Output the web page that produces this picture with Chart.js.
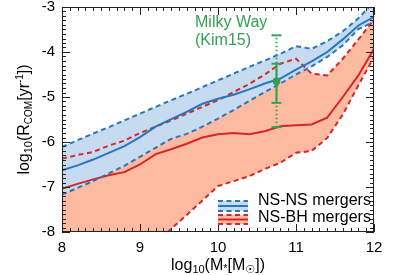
<!DOCTYPE html>
<html>
<head>
<meta charset="utf-8">
<script src="https://cdn.jsdelivr.net/npm/chart.js@4/dist/chart.umd.min.js"></script>
<style>
  html, body { margin: 0; padding: 0; background: #fff; }
</style>
</head>
<body>
<canvas id="myChart" width="415" height="275"></canvas>
<script>
/* global Chart */

// stellar mass bins, log10(M*/Msun)
const mass = [8.0, 8.2, 8.4, 8.6, 8.8, 9.0, 9.2, 9.4, 9.6, 9.8, 10.0,
  10.2, 10.4, 10.6, 10.8, 11.0, 11.2, 11.4, 11.6, 11.8, 12.0];

// NS-NS merger rates, log10(R [1/yr])
const nsnsUpper = [-6.11, -5.96, -5.81, -5.67, -5.52, -5.37, -5.22, -5.07, -4.93, -4.78, -4.63,
  -4.48, -4.33, -4.19, -4.04, -3.87, -3.93, -3.76, -3.54, -3.25, -2.89];
const nsnsMedian = [-6.63, -6.52, -6.39, -6.24, -6.09, -5.89, -5.66, -5.49, -5.33, -5.15, -5.04,
  -4.95, -4.83, -4.70, -4.59, -4.39, -4.21, -4.00, -3.72, -3.41, -3.22];
const nsnsLower = [-7.17, -7.02, -6.87, -6.70, -6.53, -6.33, -6.13, -5.93, -5.82, -5.66, -5.48,
  -5.29, -5.09, -4.89, -4.70, -4.50, -4.32, -4.11, -3.85, -3.49, -3.33];

// NS-BH merger rates
const nsbhUpper = [-6.37, -6.29, -6.22, -6.08, -5.97, -5.80, -5.66, -5.52, -5.37, -5.22, -5.07,
  -4.89, -4.71, -4.50, -4.26, -4.15, -4.48, -4.52, -4.15, -3.72, -3.28];
const nsbhMedian = [-7.04, -6.93, -6.83, -6.74, -6.67, -6.50, -6.27, -6.16, -6.04, -5.90, -5.83,
  -5.80, -5.83, -5.76, -5.65, -5.63, -5.61, -5.46, -5.00, -4.52, -3.93];
const nsbhLower = [-10.2, -9.85, -9.52, -9.22, -8.89, -8.57, -8.26, -7.93, -7.62, -7.30, -6.98,
  -6.87, -6.76, -6.60, -6.46, -6.24, -6.20, -5.91, -5.39, -4.74, -4.11];

// Milky Way estimate (Kim15)
const mwMass = 10.75;
const mwRate = -4.65;
const mwInner = [-5.13, -4.26];
const mwOuter = [-5.67, -3.63];

// axis ticks
const xTicks = [8, 9, 10, 11, 12];
const yTicks = [-8, -7, -6, -5, -4, -3];

const BLUE = "rgb(40,118,190)";
const RED = "rgb(214,38,40)";
const BLUE_FILL = "rgb(198,219,239)";
const RED_FILL = "rgb(252,187,161)";
const GREEN = "rgb(52,160,84)";
const FONT = "'Liberation Sans', Arial, sans-serif";

function pts(ys) {
  return mass.map((m, i) => ({ x: m, y: ys[i] }));
}

function bandLine(ys, color, dashed, fill, fillColor) {
  return {
    data: pts(ys),
    borderColor: color,
    borderWidth: 2,
    borderDash: dashed ? [5, 3.5] : [],
    pointRadius: 0,
    tension: 0,
    fill: fill,
    backgroundColor: fillColor || color,
  };
}

// draw text pieces with sub/superscripts
function richText(ctx, parts, cx, cy) {
  let total = 0;
  parts.forEach((p) => {
    ctx.font = p.s + "px " + (p.f || FONT);
    p.w = ctx.measureText(p.t).width;
    total += p.w;
  });
  let x = cx - total / 2;
  ctx.textBaseline = "middle";
  ctx.textAlign = "left";
  parts.forEach((p) => {
    ctx.font = p.s + "px " + (p.f || FONT);
    ctx.fillText(p.t, x, cy + (p.dy || 0));
    x += p.w;
  });
}

const decor = {
  id: "decor",
  afterDraw(chart) {
    const ctx = chart.ctx;
    const a = chart.chartArea;
    const xs = chart.scales.x;
    const ys = chart.scales.y;
    ctx.save();
    ctx.strokeStyle = "#222";
    ctx.lineWidth = 1;
    ctx.strokeRect(a.left + 0.5, a.top + 0.5, a.right - a.left - 1, a.bottom - a.top - 1);

    // inward ticks on all four sides
    ctx.beginPath();
    for (let k = 0; k <= 40; k++) {
      const v = 8 + k * 0.1;
      const len = k % 10 === 0 ? 8 : 4;
      const px = Math.round(xs.getPixelForValue(v)) + 0.5;
      ctx.moveTo(px, a.bottom);
      ctx.lineTo(px, a.bottom - len);
      ctx.moveTo(px, a.top);
      ctx.lineTo(px, a.top + len);
    }
    for (let k = 0; k <= 50; k++) {
      const v = -8 + k * 0.1;
      const len = k % 10 === 0 ? 8 : 4;
      const py = Math.round(ys.getPixelForValue(v)) + 0.5;
      ctx.moveTo(a.left, py);
      ctx.lineTo(a.left + len, py);
      ctx.moveTo(a.right, py);
      ctx.lineTo(a.right - len, py);
    }
    ctx.stroke();

    // axis titles
    ctx.fillStyle = "#000";
    richText(ctx, [
      { t: "log", s: 16 },
      { t: "10", s: 11, dy: 4 },
      { t: "(M", s: 16 },
      { t: "*", s: 11, dy: 3 },
      { t: "[M", s: 16 },
      { t: "\u2609", s: 11, dy: 4, f: "'DejaVu Sans', sans-serif" },
      { t: "])", s: 16 },
    ], (a.left + a.right) / 2, 266);

    ctx.save();
    ctx.translate(25, (a.top + a.bottom) / 2);
    ctx.rotate(-Math.PI / 2);
    richText(ctx, [
      { t: "log", s: 16 },
      { t: "10", s: 11, dy: 4 },
      { t: "(R", s: 16 },
      { t: "COM", s: 10, dy: 4 },
      { t: "[yr", s: 16 },
      { t: "-1", s: 10, dy: -5 },
      { t: "])", s: 16 },
    ], 0, 0);
    ctx.restore();

    // Milky Way label
    ctx.fillStyle = GREEN;
    ctx.font = "16px " + FONT;
    ctx.textAlign = "left";
    ctx.textBaseline = "middle";
    ctx.fillText("Milky Way", 195, 23);
    ctx.fillText("(Kim15)", 195, 41);

    // legend
    const items = [
      { label: "NS-NS mergers", line: BLUE, fill: BLUE_FILL, top: 201, bot: 211, ty: 201 },
      { label: "NS-BH mergers", line: RED, fill: RED_FILL, top: 215, bot: 224, ty: 218 },
    ];
    items.forEach((it) => {
      const x0 = 218, x1 = 248;
      ctx.fillStyle = it.fill;
      ctx.fillRect(x0, it.top, x1 - x0, it.bot - it.top);
      ctx.strokeStyle = it.line;
      ctx.lineWidth = 2;
      ctx.setLineDash([5, 3.5]);
      ctx.beginPath();
      ctx.moveTo(x0, it.top); ctx.lineTo(x1, it.top);
      ctx.moveTo(x0, it.bot); ctx.lineTo(x1, it.bot);
      ctx.stroke();
      ctx.setLineDash([]);
      ctx.beginPath();
      const mid = (it.top + it.bot) / 2;
      ctx.moveTo(x0, mid); ctx.lineTo(x1, mid);
      ctx.stroke();
      ctx.fillStyle = "#000";
      ctx.font = "16px " + FONT;
      ctx.fillText(it.label, 258, it.ty);
    });
    ctx.restore();
  },
};

const ctx = document.getElementById("myChart").getContext("2d");
const myChart = new Chart(ctx, {
  type: "line",
  data: {
    datasets: [
      {
        data: [{ x: mwMass, y: mwRate }],
        borderColor: GREEN,
        backgroundColor: GREEN,
        pointRadius: 3.5,
        showLine: false,
      },
      {
        data: [{ x: mwMass, y: mwInner[0] }, { x: mwMass, y: mwInner[1] }],
        borderColor: GREEN,
        borderWidth: 2,
        pointStyle: "line",
        pointRadius: 5,
        pointBorderWidth: 2,
      },
      {
        data: [{ x: mwMass, y: mwOuter[0] }, { x: mwMass, y: mwOuter[1] }],
        borderColor: GREEN,
        borderWidth: 2,
        borderDash: [1.5, 2.5],
        pointStyle: "line",
        pointRadius: 5,
        pointBorderWidth: 2,
      },
      bandLine(nsnsUpper, BLUE, true, "+1", BLUE_FILL),
      bandLine(nsnsLower, BLUE, true, false),
      bandLine(nsnsMedian, BLUE, false, false),
      bandLine(nsbhUpper, RED, true, "+1", RED_FILL),
      bandLine(nsbhLower, RED, true, false),
      bandLine(nsbhMedian, RED, false, false),
    ],
  },
  options: {
    responsive: false,
    animation: false,
    events: [],
    layout: { padding: { top: 2, right: 41, left: 0, bottom: 0 } },
    plugins: {
      legend: { display: false },
      tooltip: { enabled: false },
      filler: { drawTime: "beforeDatasetsDraw" },
    },
    scales: {
      x: {
        type: "linear",
        min: 8,
        max: 12,
        afterBuildTicks: (s) => { s.ticks = xTicks.map((v) => ({ value: v })); },
        ticks: { color: "#000", font: { family: FONT, size: 15 }, padding: 7, maxRotation: 0 },
        grid: { display: false, drawTicks: false },
        border: { display: false },
        afterFit: (s) => { s.height = 43; s.paddingLeft = 0; s.paddingRight = 0; },
      },
      y: {
        type: "linear",
        min: -8,
        max: -3,
        afterBuildTicks: (s) => { s.ticks = yTicks.map((v) => ({ value: v })); },
        ticks: { color: "#000", font: { family: FONT, size: 15 }, padding: 7 },
        grid: { display: false, drawTicks: false },
        border: { display: false },
        afterFit: (s) => { s.width = 62; s.paddingTop = 0; s.paddingBottom = 0; },
      },
    },
  },
  plugins: [decor],
});
</script>
</body>
</html>
